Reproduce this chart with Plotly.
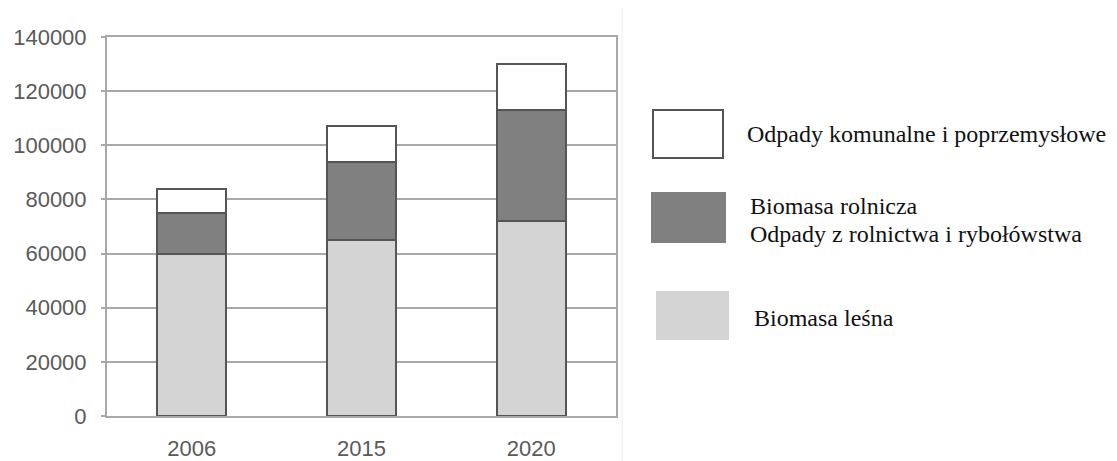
import plotly.graph_objects as go

years = ["2006", "2015", "2020"]
biomasa_lesna = [60000, 65000, 72000]
biomasa_rolnicza = [15000, 29000, 41000]
odpady_komunalne = [9000, 13000, 17000]
y_ticks = [0, 20000, 40000, 60000, 80000, 100000, 120000, 140000]
y_tick_labels = [str(v) for v in y_ticks]

W, H = 1117, 461
L, R, T, B = 107, 501, 37, 45
PW, PH = W - L - R, H - T - B


def px(x):
    return (x - L) / PW


def py(y):
    return (H - B - y) / PH


outline = dict(color="#555555", width=2)
fig = go.Figure()
fig.add_trace(go.Bar(x=years, y=biomasa_lesna, name="Biomasa leśna",
                     marker=dict(color="#d4d4d4", line=outline)))
fig.add_trace(go.Bar(x=years, y=biomasa_rolnicza, name="Biomasa rolnicza",
                     marker=dict(color="#808080", line=outline)))
fig.add_trace(go.Bar(x=years, y=odpady_komunalne, name="Odpady komunalne i poprzemysłowe",
                     marker=dict(color="#ffffff", line=outline)))

grid = "#a8a8a8"
fig.update_layout(
    width=W, height=H,
    margin=dict(l=L, r=R, t=T, b=B, pad=0, autoexpand=False),
    barmode="stack", bargap=0.595,
    plot_bgcolor="white", paper_bgcolor="white",
    showlegend=False,
    font=dict(family="Liberation Sans, Arial, sans-serif", color="#5a5a5a"),
    xaxis=dict(type="category", showline=True, linecolor=grid, linewidth=2, mirror=True,
               showgrid=False, ticks="", tickfont=dict(size=22, color="#5a5a5a"),
               ticklabelstandoff=12, automargin=False),
    yaxis=dict(range=[0, 140000], tickvals=y_ticks, ticktext=y_tick_labels,
               showline=True, linecolor=grid,
               linewidth=2, mirror=True, showgrid=True, gridcolor=grid, gridwidth=2,
               zeroline=False, ticks="outside", ticklen=4, tickcolor=grid, tickwidth=2,
               tickfont=dict(size=22, color="#5a5a5a"), ticklabelstandoff=10,
               automargin=False),
)

shapes = [
    dict(type="line", xref="paper", yref="paper", x0=px(622), x1=px(622), y0=py(8), y1=py(461),
         line=dict(color="#ececec", width=1)),
    dict(type="rect", xref="paper", yref="paper", x0=px(653), x1=px(723), y0=py(158), y1=py(110),
         fillcolor="white", line=dict(color="#555555", width=2)),
    dict(type="rect", xref="paper", yref="paper", x0=px(651), x1=px(726), y0=py(243), y1=py(192),
         fillcolor="#808080", line=dict(width=0)),
    dict(type="rect", xref="paper", yref="paper", x0=px(656), x1=px(729), y0=py(340), y1=py(291),
         fillcolor="#d4d4d4", line=dict(width=0)),
]
fig.update_layout(shapes=shapes)

serif = dict(family="Liberation Serif, Times New Roman, serif", size=24, color="#111111")
labels = [
    ("Odpady komunalne i poprzemysłowe", 745, 134),
    ("Biomasa rolnicza", 748, 206),
    ("Odpady z rolnictwa i rybołówstwa", 748, 234),
    ("Biomasa leśna", 752, 318),
]
for text, x, y in labels:
    fig.add_annotation(text=text, xref="paper", yref="paper", x=px(x), y=py(y),
                       xanchor="left", yanchor="middle", showarrow=False, font=serif)

fig.write_html("out.html")
